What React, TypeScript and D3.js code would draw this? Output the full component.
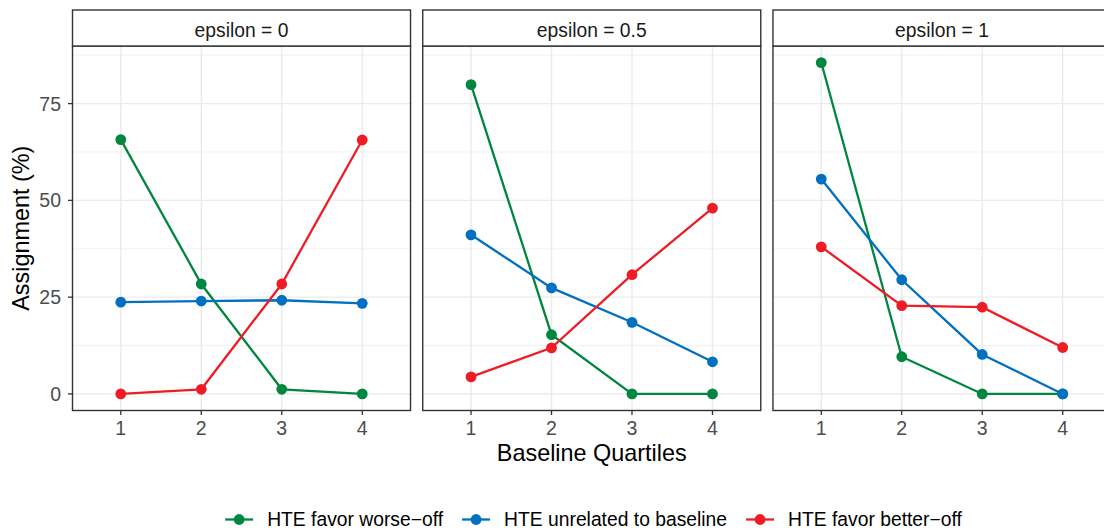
import * as d3 from "d3";
import { useEffect, useRef } from "react";

const quartiles = ["1", "2", "3", "4"];
const facetLabels = ["epsilon = 0", "epsilon = 0.5", "epsilon = 1"];
const seriesNames = ["HTE favor worse\u2212off", "HTE unrelated to baseline", "HTE favor better\u2212off"];
const seriesColors = ["#00873f", "#0070c0", "#ee1c25"];

// one row per facet, one value per quartile
const worseOff = [
  [65.7, 28.4, 1.2, 0],
  [79.9, 15.3, 0, 0],
  [85.6, 9.6, 0, 0],
];
const unrelated = [
  [23.7, 24.0, 24.2, 23.4],
  [41.1, 27.4, 18.5, 8.3],
  [55.5, 29.5, 10.2, 0],
];
const betterOff = [
  [0, 1.2, 28.4, 65.6],
  [4.4, 11.9, 30.8, 48.0],
  [38.0, 22.8, 22.4, 12.0],
];
const yTicks = [0, 25, 50, 75];
const yMinor = [12.5, 37.5, 62.5, 87.5];

const font = "'Liberation Sans', Arial, sans-serif";

function App() {
  const ref = useRef<SVGSVGElement>(null);

  useEffect(() => {
    const svg = d3.select(ref.current!);
    svg.selectAll("*").remove();

    const plotLeft = 72.5;
    const plotRight = 1111;
    const gap = 12.2;
    const stripTop = 10;
    const panelTop = 46;
    const panelBottom = 410.5;
    const panelW = (plotRight - plotLeft - 2 * gap) / 3;

    const series = [worseOff, unrelated, betterOff];
    const all = series.flat(2);
    const ymax = d3.max(all)!;
    const ymin = d3.min(all)!;
    const span = ymax - ymin;
    const y = d3.scaleLinear()
      .domain([ymin - span * 0.05, ymax + span * 0.05])
      .range([panelBottom, panelTop]);

    facetLabels.forEach((label, fi) => {
      const left = plotLeft + fi * (panelW + gap);
      const x = d3.scalePoint<string>()
        .domain(quartiles)
        .range([left, left + panelW])
        .padding(0.6);

      const g = svg.append("g");
      g.append("clipPath").attr("id", `clip${fi}`)
        .append("rect").attr("x", left).attr("y", panelTop)
        .attr("width", panelW).attr("height", panelBottom - panelTop);

      // grid
      g.selectAll(".minor").data(yMinor.filter(v => y(v) > panelTop)).join("line")
        .attr("x1", left).attr("x2", left + panelW)
        .attr("y1", d => y(d)).attr("y2", d => y(d))
        .attr("stroke", "#ebebeb").attr("stroke-width", 0.7);
      g.selectAll(".major").data(yTicks).join("line")
        .attr("x1", left).attr("x2", left + panelW)
        .attr("y1", d => y(d)).attr("y2", d => y(d))
        .attr("stroke", "#ebebeb").attr("stroke-width", 1.4);
      g.selectAll(".vmajor").data(quartiles).join("line")
        .attr("x1", d => x(d)!).attr("x2", d => x(d)!)
        .attr("y1", panelTop).attr("y2", panelBottom)
        .attr("stroke", "#ebebeb").attr("stroke-width", 1.4);

      // lines then points
      const line = d3.line<number>()
        .x((_, i) => x(quartiles[i])!)
        .y(d => y(d));
      const data = g.append("g").attr("clip-path", `url(#clip${fi})`);
      series.forEach((s, si) => {
        data.append("path")
          .attr("d", line(s[fi]))
          .attr("fill", "none")
          .attr("stroke", seriesColors[si])
          .attr("stroke-width", 2.3);
      });
      series.forEach((s, si) => {
        data.selectAll(null).data(s[fi]).join("circle")
          .attr("cx", (_, i) => x(quartiles[i])!)
          .attr("cy", d => y(d))
          .attr("r", 5.4)
          .attr("fill", seriesColors[si]);
      });

      // panel border
      g.append("rect")
        .attr("x", left).attr("y", panelTop)
        .attr("width", panelW).attr("height", panelBottom - panelTop)
        .attr("fill", "none").attr("stroke", "#333333").attr("stroke-width", 1.4);

      // strip
      g.append("rect")
        .attr("x", left).attr("y", stripTop)
        .attr("width", panelW).attr("height", panelTop - stripTop)
        .attr("fill", "white").attr("stroke", "#333333").attr("stroke-width", 1.4);
      g.append("text")
        .attr("x", left + panelW / 2).attr("y", 37)
        .attr("text-anchor", "middle")
        .attr("font-family", font).attr("font-size", 19.3)
        .attr("fill", "#1a1a1a")
        .text(label);

      // x axis
      const xa = g.append("g");
      xa.selectAll("line").data(quartiles).join("line")
        .attr("x1", d => x(d)!).attr("x2", d => x(d)!)
        .attr("y1", panelBottom).attr("y2", panelBottom + 4.5)
        .attr("stroke", "#333333").attr("stroke-width", 1.3);
      xa.selectAll("text").data(quartiles).join("text")
        .attr("x", d => x(d)!).attr("y", 435)
        .attr("text-anchor", "middle")
        .attr("font-family", font).attr("font-size", 19.5)
        .attr("fill", "#4d4d4d")
        .text(d => d);

      // y axis on first panel
      if (fi === 0) {
        const ya = g.append("g");
        ya.selectAll("line").data(yTicks).join("line")
          .attr("x1", left - 4.5).attr("x2", left)
          .attr("y1", d => y(d)).attr("y2", d => y(d))
          .attr("stroke", "#333333").attr("stroke-width", 1.3);
        ya.selectAll("text").data(yTicks).join("text")
          .attr("x", left - 11.5).attr("y", d => y(d))
          .attr("dy", "0.36em")
          .attr("text-anchor", "end")
          .attr("font-family", font).attr("font-size", 19.5)
          .attr("fill", "#4d4d4d")
          .text(d => d);
      }
    });

    // axis titles
    svg.append("text")
      .attr("x", (plotLeft + plotRight) / 2).attr("y", 461)
      .attr("text-anchor", "middle")
      .attr("font-family", font).attr("font-size", 23.4)
      .attr("fill", "black")
      .text("Baseline Quartiles");
    svg.append("text")
      .attr("transform", `translate(29,${(panelTop + panelBottom) / 2}) rotate(-90)`)
      .attr("text-anchor", "middle")
      .attr("font-family", font).attr("font-size", 23.4)
      .attr("fill", "black")
      .text("Assignment (%)");

    // legend
    const legend = svg.append("g");
    const ly = 519.5;
    const itemGap = 19;
    let cx = 0;
    seriesNames.forEach((name, i) => {
      const it = legend.append("g").attr("transform", `translate(${cx},0)`);
      it.append("line")
        .attr("x1", 0).attr("x2", 28)
        .attr("y1", ly).attr("y2", ly)
        .attr("stroke", seriesColors[i]).attr("stroke-width", 2.3);
      it.append("circle").attr("cx", 14).attr("cy", ly).attr("r", 5.4)
        .attr("fill", seriesColors[i]);
      const t = it.append("text")
        .attr("x", 42).attr("y", ly).attr("dy", "0.36em")
        .attr("font-family", font).attr("font-size", 19.3)
        .attr("fill", "black")
        .text(name);
      const w = 42 + (t.node() as SVGTextElement).getComputedTextLength();
      cx += w + itemGap;
    });
    const total = cx - itemGap;
    legend.attr("transform", `translate(${593.5 - total / 2},0)`);
  }, []);

  return (
    <svg
      ref={ref}
      width={1104}
      height={531}
      style={{ position: "absolute", left: 0, top: 0, background: "white" }}
    />
  );
}

export default App;
